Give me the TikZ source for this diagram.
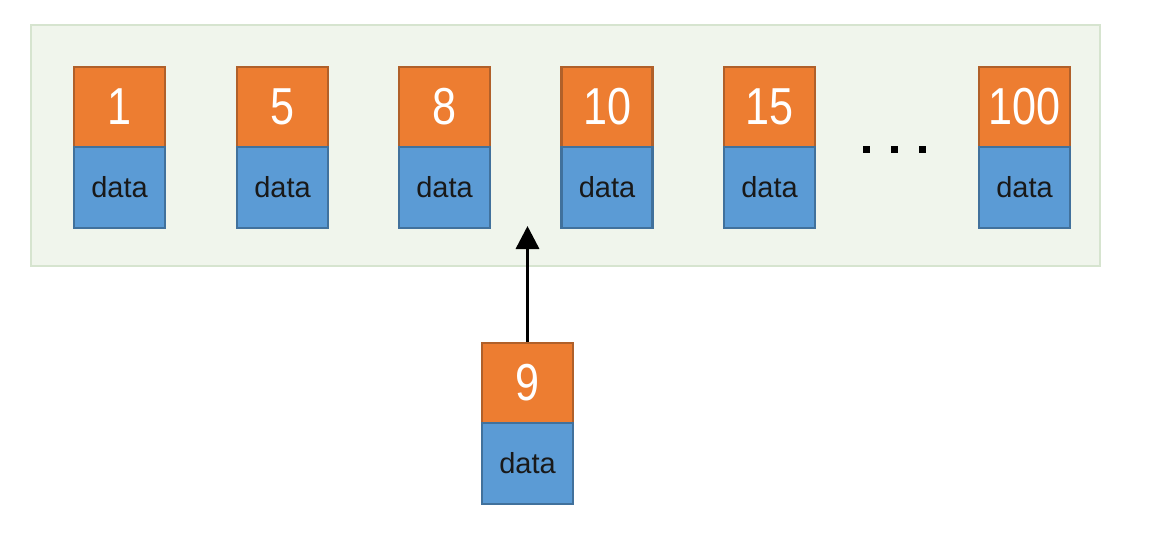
\documentclass[tikz,border=0pt]{standalone}
\usepackage{fontspec}
\setmainfont{Liberation Sans}
\usetikzlibrary{arrows.meta}
\definecolor{korange}{HTML}{ED7D31}
\definecolor{korangeb}{HTML}{B0602A}
\definecolor{kblue}{HTML}{5B9BD5}
\definecolor{kblueb}{HTML}{41719C}
\definecolor{bgfill}{HTML}{F0F5EC}
\definecolor{bgline}{HTML}{D6E4CF}
\newcommand\keynum[1]{\scalebox{0.83}[1]{#1}}
\tikzset{
  keybox/.style={draw=korangeb, fill=korange, line width=2.6pt, minimum width=91pt, minimum height=80pt, inner sep=0pt, text=white, font=\fontsize{52}{52}\selectfont},
  databox/.style={draw=kblueb, fill=kblue, line width=2.6pt, minimum width=91pt, minimum height=81pt, inner sep=0pt, text=black!90, font=\fontsize{29}{29}\selectfont},
  dotsq/.style={fill=black, minimum width=7pt, minimum height=7pt, inner sep=0pt},
  bgpanel/.style={draw=bgline, fill=bgfill, line width=1.5pt},
  pointer/.style={-{Triangle[length=23pt,width=23pt]}, line width=3.5pt}
}
\begin{document}
\begin{tikzpicture}[x=1pt,y=-1pt]
\useasboundingbox (0,0) rectangle (1156,546);
\fill[white] (0,0) rectangle (1156,546);
\draw[bgpanel] (31,25) rectangle (1100,266);
\node[keybox] (k1) at (119.5,107) {\keynum{1}};
\node[databox] (v1) at (119.5,187.5) {data};
\node[keybox] (k5) at (282.5,107) {\keynum{5}};
\node[databox] (v5) at (282.5,187.5) {data};
\node[keybox] (k8) at (444.5,107) {\keynum{8}};
\node[databox] (v8) at (444.5,187.5) {data};
\node[keybox] (k10) at (607,107) {\keynum{10}};
\node[databox] (v10) at (607,187.5) {data};
\node[keybox] (k15) at (769.5,107) {\keynum{15}};
\node[databox] (v15) at (769.5,187.5) {data};
\node[keybox] (k100) at (1024.5,107) {\keynum{100}};
\node[databox] (v100) at (1024.5,187.5) {data};
\node[dotsq] (d1) at (866,149) {};
\node[dotsq] (d2) at (894,149) {};
\node[dotsq] (d3) at (922,149) {};
\node[keybox] (k9) at (527.5,383) {\keynum{9}};
\node[databox] (v9) at (527.5,463.5) {data};
\coordinate (tip) at (527.5,226);
\draw[pointer] (k9.north) -- (tip);
\end{tikzpicture}
\end{document}
